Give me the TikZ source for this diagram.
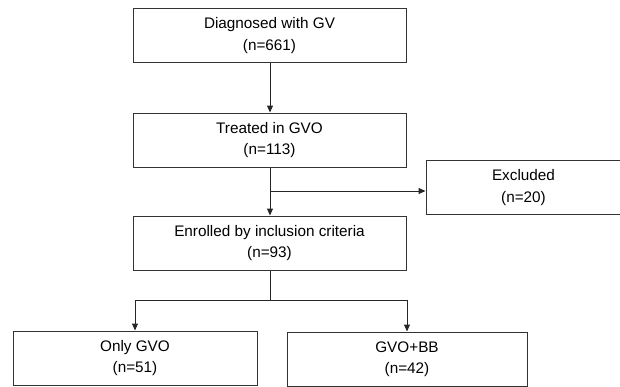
\documentclass[tikz,border=0pt]{standalone}
\usepackage{fontspec}
\setmainfont{Liberation Sans}
\usepackage{tikz}
\usetikzlibrary{positioning,arrows.meta}

\begin{document}
\begin{tikzpicture} [x=1pt, y=-1pt, box/.style={draw=black!80, line width=1pt, minimum height=54pt, align=center, inner sep=0pt, font=\fontsize{15.3}{21.5}\selectfont}, arr/.style={draw=black!85, line width=1pt, -{Triangle[length=7pt, width=6pt]}}, line/.style={draw=black!85, line width=1pt}]
	\useasboundingbox (0, 0) rectangle (620, 386);
	\node [box, minimum width=273pt] (diag) at (269.5, 35.5) {Diagnosed with GV\\(n=661)};
	\node [box, minimum width=273pt] (treat) at (269.5, 140) {Treated in GVO\\(n=113)};
	\node [box, minimum width=195pt] (excl) at (523.5, 187.5) {Excluded\\(n=20)};
	\node [box, minimum width=273pt] (enrol) at (269.5, 243) {Enrolled by inclusion criteria\\(n=93)};
	\node [box, minimum width=244pt] (only) at (135, 358) {Only GVO\\(n=51)};
	\node [box, minimum width=240pt] (combo) at (407, 359) {GVO+BB\\(n=42)};
	\coordinate (cut) at (270, 191);
	\coordinate (split) at (270, 300);
	\draw [arr] (diag.south -| cut) -- (treat.north -| cut);
	\draw [arr] (treat.south -| cut) -- (enrol.north -| cut);
	\draw [arr] (cut) -- (cut -| excl.west);
	\draw [line] (enrol.south -| split) -- (split);
	\draw [arr] (split) -| (only.north);
	\draw [arr] (split) -| (combo.north);
\end{tikzpicture}
\end{document}
